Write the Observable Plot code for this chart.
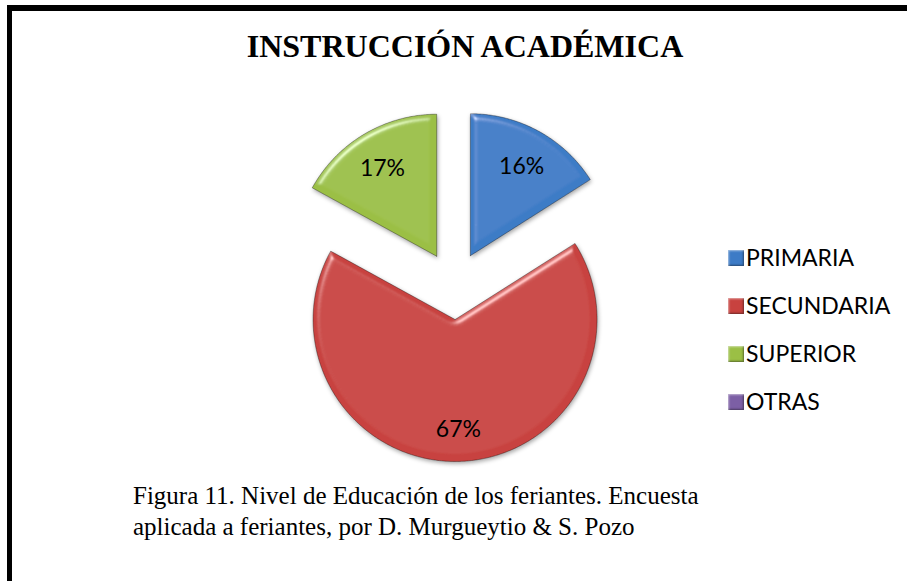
<!DOCTYPE html>
<html>
<head>
<meta charset="utf-8">
<script src="https://cdn.jsdelivr.net/npm/d3@7"></script>
<script src="https://cdn.jsdelivr.net/npm/@observablehq/plot@0.6"></script>
<style>
  html, body { margin: 0; padding: 0; background: #fff; }
  #wrap { position: relative; width: 907px; height: 581px; overflow: hidden; background: #fff; }
  #frame { position: absolute; left: 7px; top: 5px; width: 1000px; height: 700px;
           border-left: 5px solid #000; border-top: 6px solid #000; box-sizing: border-box; }
  #chart { position: absolute; left: 0; top: 0; }
  #title { position: absolute; left: 0; width: 930px; top: 30px; text-align: center;
           font-family: "Liberation Serif", "Times New Roman", serif; font-weight: bold;
           font-size: 32px; line-height: 32px; color: #000; white-space: nowrap; }
  #legend { position: absolute; left: 728px; top: 241px; font-family: Lato, Calibri, sans-serif;
            font-size: 23px; color: #000; }
  .item { height: 48px; display: flex; align-items: flex-start; }
  .sw { width: 16px; height: 16px; margin-top: 9px; margin-right: 2px; box-sizing: border-box;
        box-shadow: inset 1px 1px 2px rgba(255,255,255,0.55), inset -1px -1px 2px rgba(0,0,0,0.45); }
  .lab { line-height: 32px; }
  #caption { position: absolute; left: 133px; top: 480px; font-family: "Liberation Serif", "Times New Roman", serif;
             font-size: 25px; line-height: 31px; color: #000; white-space: nowrap; }
</style>
</head>
<body>
<div id="wrap">
  <div id="frame"></div>
  <div id="chart"></div>
  <div id="title">INSTRUCCIÓN ACADÉMICA</div>
  <div id="legend"></div>
  <div id="caption">Figura 11. Nivel de Educación de los feriantes. Encuesta<br>aplicada a feriantes, por D. Murgueytio &amp; S. Pozo</div>
</div>
<script>
// ---- data ----
const categories = ["PRIMARIA", "SECUNDARIA", "SUPERIOR", "OTRAS"];
const values = [16, 67, 17, 0];
const colors = ["#3d7bc6", "#c8423f", "#9bbf45", "#7c5fa5"];

// ---- geometry (layout) ----
const W = 907, H = 581;
const R = 142;              // radius in px
const CX = 453.5, CY = 285; // pie center in px
const explode = 34 / R;     // explosion offset in radius units
const labelR = 0.75;

const total = d3.sum(values);
const arcs = d3.pie().sort(null).value(d => d.value)(
  categories.map((c, i) => ({cat: c, value: values[i]}))
);

const points = [];
const labels = [];
for (const a of arcs) {
  if (a.data.value <= 0) continue;
  const mid = (a.startAngle + a.endAngle) / 2;
  const ox = explode * Math.sin(mid), oy = explode * Math.cos(mid);
  points.push({cat: a.data.cat, x: ox, y: oy});
  const n = Math.max(4, Math.ceil((a.endAngle - a.startAngle) / (Math.PI / 360)));
  for (let k = 0; k <= n; k++) {
    const t = a.startAngle + (a.endAngle - a.startAngle) * k / n;
    points.push({cat: a.data.cat, x: ox + Math.sin(t), y: oy + Math.cos(t)});
  }
  points.push({cat: a.data.cat, x: ox, y: oy});
  labels.push({
    cat: a.data.cat,
    x: ox + labelR * Math.sin(mid),
    y: oy + labelR * Math.cos(mid),
    text: Math.round(a.data.value / total * 100) + "%"
  });
}

const plot = Plot.plot({
  width: W, height: H,
  margin: 0,
  x: {domain: [-CX / R, (W - CX) / R], axis: null},
  y: {domain: [-(H - CY) / R, CY / R], axis: null},
  color: {domain: categories, range: colors},
  style: {background: "transparent", overflow: "visible"},
  marks: [
    Plot.line(points, {x: "x", y: "y", z: "cat", fill: "cat", stroke: "rgba(0,0,0,0.35)", strokeWidth: 1, curve: "linear"}),
    Plot.text(labels, {x: "x", y: "y", text: "text", fill: "#000", fontSize: 23, dy: 4, fontFamily: "Lato, Calibri, sans-serif"})
  ]
});
document.getElementById("chart").appendChild(plot);

// bevel filter on the slices
const ns = "http://www.w3.org/2000/svg";
const defs = document.createElementNS(ns, "defs");
defs.innerHTML = `
<filter id="bevel" x="-10%" y="-10%" width="125%" height="125%">
  <feGaussianBlur in="SourceAlpha" stdDeviation="3" result="blur"/>
  <feSpecularLighting in="blur" surfaceScale="5" specularConstant="0.8" specularExponent="26" lighting-color="#ffffff" result="spec">
    <feDistantLight azimuth="235" elevation="35"/>
  </feSpecularLighting>
  <feComposite in="spec" in2="SourceAlpha" operator="in" result="specIn"/>
  <feComposite in="SourceGraphic" in2="specIn" operator="arithmetic" k1="0" k2="1" k3="0.6" k4="0" result="lit"/>
  <feGaussianBlur in="SourceAlpha" stdDeviation="2" result="sb"/>
  <feOffset in="sb" dx="1" dy="2" result="so"/>
  <feFlood flood-color="#000" flood-opacity="0.35"/>
  <feComposite in2="so" operator="in" result="shadow"/>
  <feMerge><feMergeNode in="shadow"/><feMergeNode in="lit"/></feMerge>
</filter>`;
plot.insertBefore(defs, plot.firstChild);
const lineG = plot.querySelector('g[aria-label="line"]');
if (lineG) lineG.setAttribute("filter", "url(#bevel)");

// legend
const legend = document.getElementById("legend");
categories.forEach((c, i) => {
  const it = document.createElement("div");
  it.className = "item";
  const sw = document.createElement("div");
  sw.className = "sw";
  sw.style.background = colors[i];
  const lb = document.createElement("div");
  lb.className = "lab";
  lb.textContent = c;
  it.appendChild(sw); it.appendChild(lb);
  legend.appendChild(it);
});
</script>
</body>
</html>
